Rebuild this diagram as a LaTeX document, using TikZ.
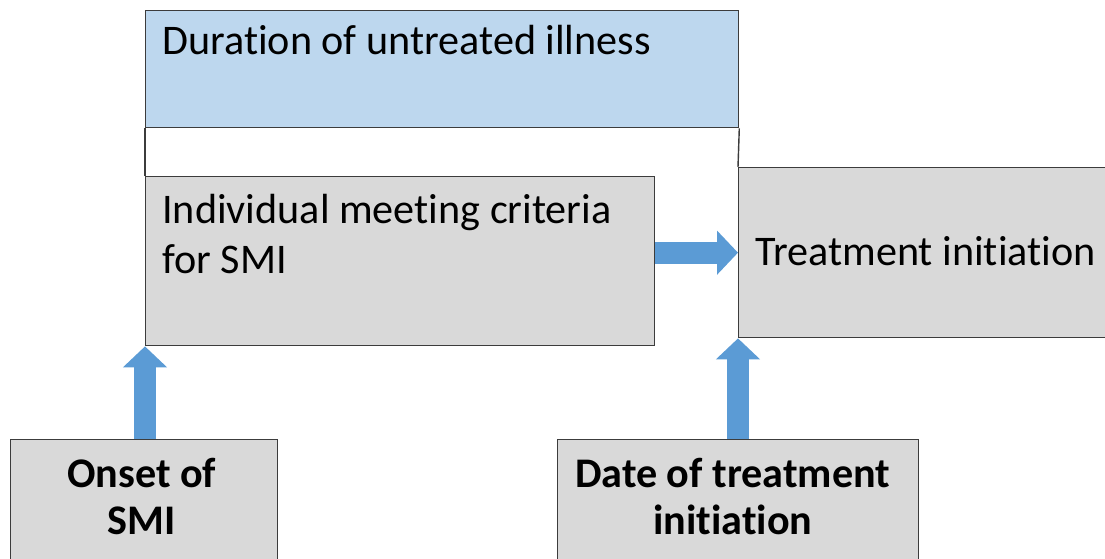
\documentclass[tikz,border=0pt]{standalone}
\usepackage{fontspec}
\setmainfont{Carlito}[Ligatures=NoCommon]
\usetikzlibrary{positioning,arrows.meta}
\definecolor{headblue}{RGB}{189,215,238}
\definecolor{boxgray}{RGB}{217,217,217}
\definecolor{arrowblue}{RGB}{91,155,213}
\definecolor{edgegray}{RGB}{60,60,60}

\begin{document}
\begin{tikzpicture}[x=0.02cm, y=-0.02cm,
    greybox/.style={draw=edgegray, line width=0.8pt, fill=boxgray, inner sep=0pt, anchor=north west},
    plaintext/.style={inner sep=0pt, font=\fontsize{24}{28.5}\selectfont, align=left},
    boldtext/.style={inner sep=0pt, font=\fontsize{24}{27.2}\selectfont\bfseries, align=center},
    fatarrow/.style={draw=arrowblue, line width=0.44cm, -{Triangle[width=0.86cm, length=0.42cm]}}]
    \useasboundingbox (0,0) rectangle (1105,558);
    %header box with the white gap below it
    \node[greybox, fill=headblue, minimum width=11.86cm, minimum height=2.34cm] (dui) at (145,10) {};
    \node[plaintext, anchor=base west] (duitext) at ([xshift=0.34cm, yshift=-0.9cm]dui.north west) {Duration of untreated illness};
    
    \node[greybox, minimum width=10.18cm, minimum height=3.38cm] (ind) at (145,176) {};
    %base of a two line node is the second line
    \node[plaintext, anchor=base west] (indtext) at ([xshift=0.34cm, yshift=-1.96cm]ind.north west) {Individual meeting criteria\\for SMI};
    
    \node[greybox, minimum width=7.6cm, minimum height=3.4cm] (treat) at (738,167) {};
    \node[plaintext, anchor=base west] (treattext) at ([xshift=0.34cm, yshift=-0.26cm]treat.west) {Treatment initiation};
    
    \draw[edgegray, line width=0.8pt] (dui.south west) -- (ind.north west);
    \draw[edgegray, line width=0.8pt] (dui.south east) -- (treat.north west);
    
    %the two dates at the bottom
    \node[greybox, minimum width=5.34cm, minimum height=2.8cm] (onset) at (10,439) {};
    \node[boldtext, anchor=base] (onsettext) at ([xshift=-0.05cm, yshift=-1.92cm]onset.north) {Onset of\\SMI};
    
    \node[greybox, minimum width=7.22cm, minimum height=2.8cm] (date) at (557,439) {};
    \node[boldtext, anchor=base] (datetext) at ([xshift=-0.11cm, yshift=-1.92cm]date.north) {Date of treatment\\initiation};
    
    %block arrows
    \draw[fatarrow] (ind.east |- treat.west) -- (treat.west);
    \draw[fatarrow] (onset.north -| ind.south west) -- (ind.south west);
    \draw[fatarrow] (date.north -| treat.south west) -- (treat.south west);
\end{tikzpicture}
\end{document}
